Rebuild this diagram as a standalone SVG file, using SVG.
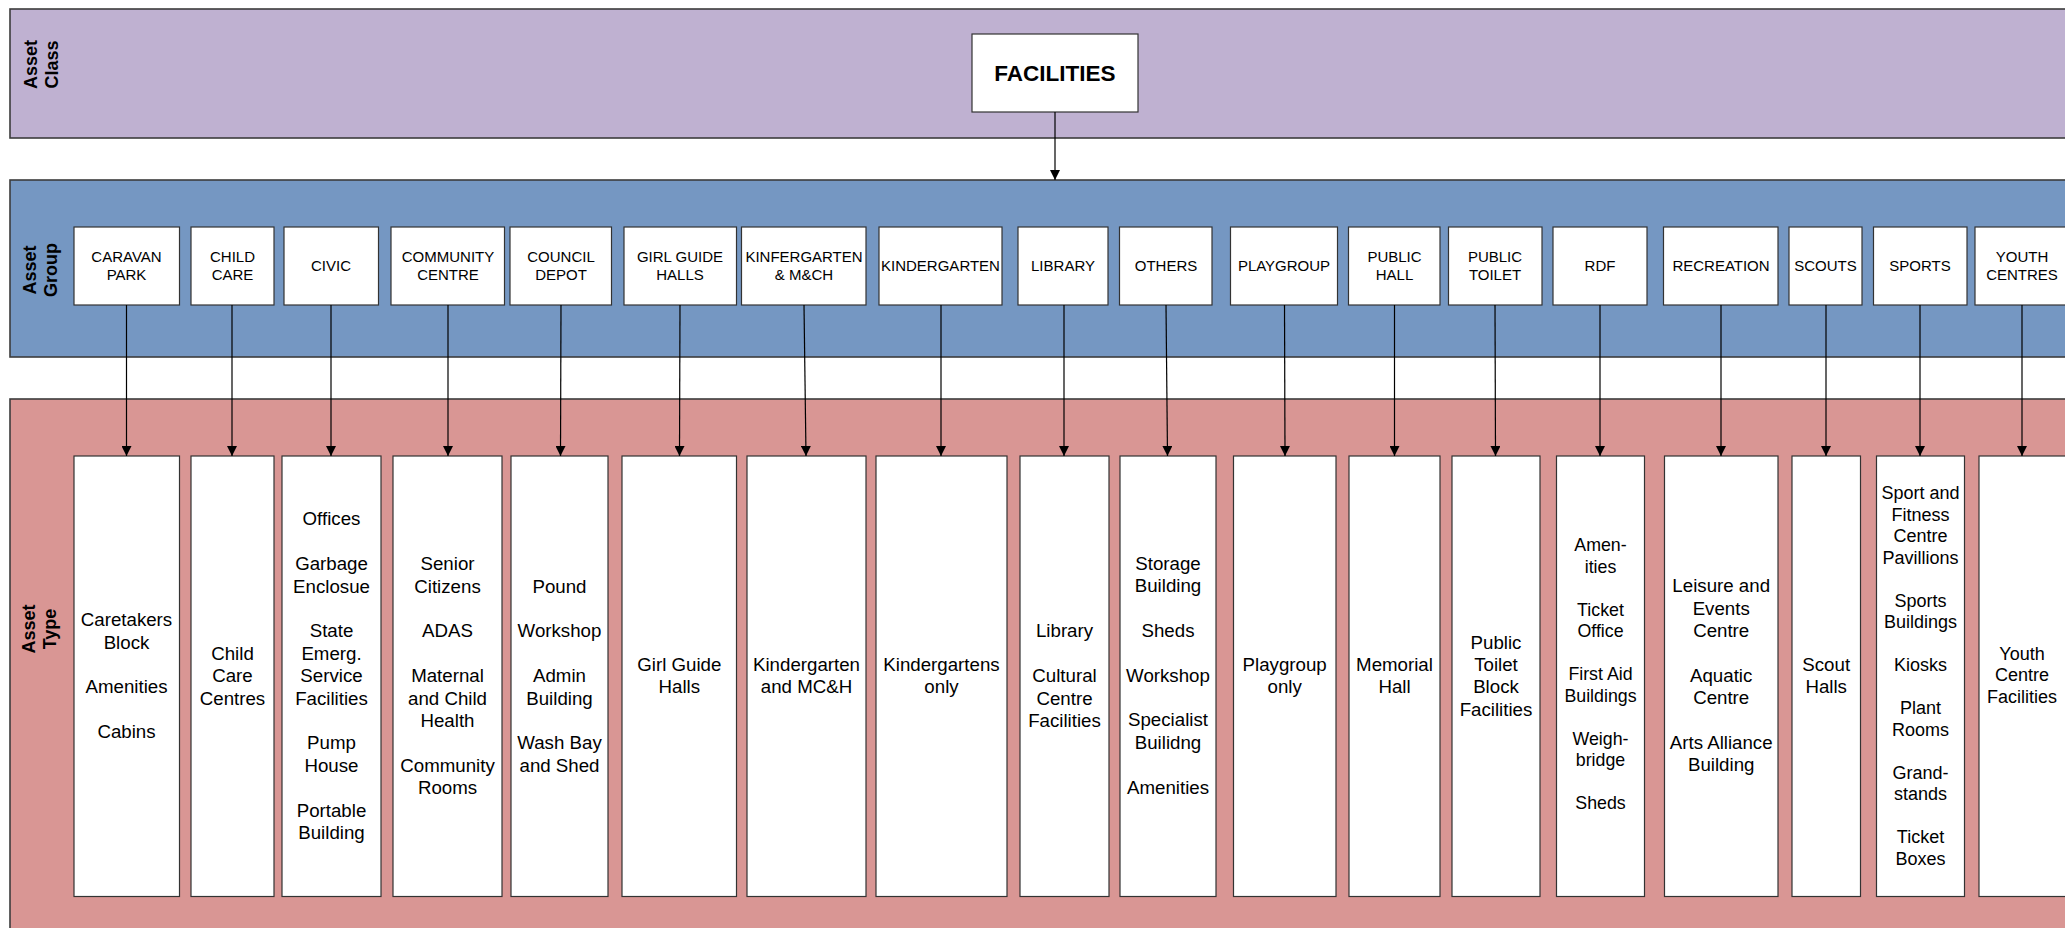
<svg xmlns="http://www.w3.org/2000/svg" width="2065" height="928" viewBox="0 0 2065 928">
<style>
.band{stroke:#3c3c3c;stroke-width:1.6}
.box{fill:#ffffff;stroke:#333333;stroke-width:1.2}
.lbl{font-family:"Liberation Sans",Arial,sans-serif;font-weight:bold;font-size:18px;fill:#000;text-anchor:middle}
.g{font-family:"Liberation Sans",Arial,sans-serif;font-size:15px;fill:#000;text-anchor:middle}
.t{font-family:"Liberation Sans",Arial,sans-serif;font-size:18.7px;fill:#000;text-anchor:middle}
.ts{font-family:"Liberation Sans",Arial,sans-serif;font-size:18px;fill:#000;text-anchor:middle}
.top{font-family:"Liberation Sans",Arial,sans-serif;font-weight:bold;font-size:22.5px;fill:#000;text-anchor:middle}
.c{stroke:#000;stroke-width:1.2;fill:none;marker-end:url(#ah)}
</style>
<defs>
<marker id="ah" markerUnits="userSpaceOnUse" markerWidth="10" markerHeight="10" refX="10" refY="5" orient="auto">
<path d="M0,0 L10,5 L0,10 z" fill="#000"/>
</marker>
</defs>
<rect width="2065" height="928" fill="#ffffff"/>
<g id="bands">
<rect class="band" x="10" y="9" width="2070" height="129" fill="#BFB1D1"/>
<rect class="band" x="10" y="180" width="2070" height="177" fill="#7597C2"/>
<rect class="band" x="10" y="399" width="2070" height="540" fill="#D99694"/>
<g transform="translate(37,64.5) rotate(-90)"><text class="lbl" x="0" y="0">Asset<tspan x="0" dy="21">Class</tspan></text></g>
<g transform="translate(36,270) rotate(-90)"><text class="lbl" x="0" y="0">Asset<tspan x="0" dy="21">Group</tspan></text></g>
<g transform="translate(35,629) rotate(-90)"><text class="lbl" x="0" y="0">Asset<tspan x="0" dy="21">Type</tspan></text></g>
</g>
<g id="facilities"><rect class="box" x="972" y="34" width="166" height="78"/><text class="top" x="1055" y="81">FACILITIES</text></g>

<g id="g-caravan"><rect class="box" x="74" y="227" width="105.5" height="78"/><text class="g" x="126.5" y="262.1">CARAVAN<tspan x="126.5" dy="17.6">PARK</tspan></text></g>
<g id="g-childcare"><rect class="box" x="191" y="227" width="83" height="78"/><text class="g" x="232.5" y="262.1">CHILD<tspan x="232.5" dy="17.6">CARE</tspan></text></g>
<g id="g-civic"><rect class="box" x="284" y="227" width="94.5" height="78"/><text class="g" x="331" y="270.9">CIVIC</text></g>
<g id="g-community"><rect class="box" x="391" y="227" width="113.5" height="78"/><text class="g" x="448" y="262.1">COMMUNITY<tspan x="448" dy="17.6">CENTRE</tspan></text></g>
<g id="g-council"><rect class="box" x="510" y="227" width="101.5" height="78"/><text class="g" x="561" y="262.1">COUNCIL<tspan x="561" dy="17.6">DEPOT</tspan></text></g>
<g id="g-girlguide"><rect class="box" x="624" y="227" width="112.5" height="78"/><text class="g" x="680" y="262.1">GIRL GUIDE<tspan x="680" dy="17.6">HALLS</tspan></text></g>
<g id="g-kinfergarten"><rect class="box" x="741.5" y="227" width="124.5" height="78"/><text class="g" x="804" y="262.1">KINFERGARTEN<tspan x="804" dy="17.6">&amp; M&amp;CH</tspan></text></g>
<g id="g-kindergarten"><rect class="box" x="879" y="227" width="123" height="78"/><text class="g" x="940.5" y="270.9">KINDERGARTEN</text></g>
<g id="g-library"><rect class="box" x="1018" y="227" width="90" height="78"/><text class="g" x="1063" y="270.9">LIBRARY</text></g>
<g id="g-others"><rect class="box" x="1119.5" y="227" width="92.5" height="78"/><text class="g" x="1166" y="270.9">OTHERS</text></g>
<g id="g-playgroup"><rect class="box" x="1230.5" y="227" width="107" height="78"/><text class="g" x="1284" y="270.9">PLAYGROUP</text></g>
<g id="g-publichall"><rect class="box" x="1348.5" y="227" width="91.5" height="78"/><text class="g" x="1394.5" y="262.1">PUBLIC<tspan x="1394.5" dy="17.6">HALL</tspan></text></g>
<g id="g-publictoilet"><rect class="box" x="1448.5" y="227" width="93.5" height="78"/><text class="g" x="1495" y="262.1">PUBLIC<tspan x="1495" dy="17.6">TOILET</tspan></text></g>
<g id="g-rdf"><rect class="box" x="1553" y="227" width="94" height="78"/><text class="g" x="1600" y="270.9">RDF</text></g>
<g id="g-recreation"><rect class="box" x="1663.5" y="227" width="114.5" height="78"/><text class="g" x="1721" y="270.9">RECREATION</text></g>
<g id="g-scouts"><rect class="box" x="1789" y="227" width="73" height="78"/><text class="g" x="1825.5" y="270.9">SCOUTS</text></g>
<g id="g-sports"><rect class="box" x="1873.5" y="227" width="93.5" height="78"/><text class="g" x="1920" y="270.9">SPORTS</text></g>
<g id="g-youth"><rect class="box" x="1975" y="227" width="94" height="78"/><text class="g" x="2022" y="262.1">YOUTH<tspan x="2022" dy="17.6">CENTRES</tspan></text></g>

<g id="t-caravan"><rect class="box" x="74" y="456" width="105.5" height="440.5"/><text class="t" x="126.5" y="626.2">Caretakers<tspan x="126.5" dy="22.4">Block</tspan><tspan x="126.5" dy="44.8">Amenities</tspan><tspan x="126.5" dy="44.8">Cabins</tspan></text></g>
<g id="t-childcare"><rect class="box" x="191" y="456" width="83" height="440.5"/><text class="t" x="232.5" y="659.8">Child<tspan x="232.5" dy="22.4">Care</tspan><tspan x="232.5" dy="22.4">Centres</tspan></text></g>
<g id="t-civic"><rect class="box" x="282" y="456" width="99" height="440.5"/><text class="t" x="331.5" y="525.4">Offices<tspan x="331.5" dy="44.8">Garbage</tspan><tspan x="331.5" dy="22.4">Enclosue</tspan><tspan x="331.5" dy="44.8">State</tspan><tspan x="331.5" dy="22.4">Emerg.</tspan><tspan x="331.5" dy="22.4">Service</tspan><tspan x="331.5" dy="22.4">Facilities</tspan><tspan x="331.5" dy="44.8">Pump</tspan><tspan x="331.5" dy="22.4">House</tspan><tspan x="331.5" dy="44.8">Portable</tspan><tspan x="331.5" dy="22.4">Building</tspan></text></g>
<g id="t-community"><rect class="box" x="393" y="456" width="109" height="440.5"/><text class="t" x="447.5" y="570.2">Senior<tspan x="447.5" dy="22.4">Citizens</tspan><tspan x="447.5" dy="44.8">ADAS</tspan><tspan x="447.5" dy="44.8">Maternal</tspan><tspan x="447.5" dy="22.4">and Child</tspan><tspan x="447.5" dy="22.4">Health</tspan><tspan x="447.5" dy="44.8">Community</tspan><tspan x="447.5" dy="22.4">Rooms</tspan></text></g>
<g id="t-council"><rect class="box" x="511" y="456" width="97" height="440.5"/><text class="t" x="559.5" y="592.6">Pound<tspan x="559.5" dy="44.8">Workshop</tspan><tspan x="559.5" dy="44.8">Admin</tspan><tspan x="559.5" dy="22.4">Building</tspan><tspan x="559.5" dy="44.8">Wash Bay</tspan><tspan x="559.5" dy="22.4">and Shed</tspan></text></g>
<g id="t-girlguide"><rect class="box" x="622" y="456" width="114.5" height="440.5"/><text class="t" x="679.3" y="671">Girl Guide<tspan x="679.3" dy="22.4">Halls</tspan></text></g>
<g id="t-kindergarten-mch"><rect class="box" x="747" y="456" width="119" height="440.5"/><text class="t" x="806.5" y="671">Kindergarten<tspan x="806.5" dy="22.4">and MC&amp;H</tspan></text></g>
<g id="t-kindergartens"><rect class="box" x="876" y="456" width="131" height="440.5"/><text class="t" x="941.5" y="671">Kindergartens<tspan x="941.5" dy="22.4">only</tspan></text></g>
<g id="t-library"><rect class="box" x="1020" y="456" width="89" height="440.5"/><text class="t" x="1064.5" y="637.4">Library<tspan x="1064.5" dy="44.8">Cultural</tspan><tspan x="1064.5" dy="22.4">Centre</tspan><tspan x="1064.5" dy="22.4">Facilities</tspan></text></g>
<g id="t-others"><rect class="box" x="1120" y="456" width="96" height="440.5"/><text class="t" x="1168" y="569.5">Storage<tspan x="1168" dy="22.4">Building</tspan><tspan x="1168" dy="44.8">Sheds</tspan><tspan x="1168" dy="44.8">Workshop</tspan><tspan x="1168" dy="44.8">Specialist</tspan><tspan x="1168" dy="22.4">Builidng</tspan><tspan x="1168" dy="44.8">Amenities</tspan></text></g>
<g id="t-playgroup"><rect class="box" x="1233.5" y="456" width="102.5" height="440.5"/><text class="t" x="1284.7" y="671">Playgroup<tspan x="1284.7" dy="22.4">only</tspan></text></g>
<g id="t-publichall"><rect class="box" x="1349" y="456" width="91" height="440.5"/><text class="t" x="1394.5" y="671">Memorial<tspan x="1394.5" dy="22.4">Hall</tspan></text></g>
<g id="t-publictoilet"><rect class="box" x="1452" y="456" width="88" height="440.5"/><text class="t" x="1496" y="648.6">Public<tspan x="1496" dy="22.4">Toilet</tspan><tspan x="1496" dy="22.4">Block</tspan><tspan x="1496" dy="22.4">Facilities</tspan></text></g>
<g id="t-rdf"><rect class="box" x="1556.5" y="456" width="88" height="440.5"/><text class="ts" style="font-size:17.8px" x="1600.5" y="551.4">Amen-<tspan x="1600.5" dy="21.5">ities</tspan><tspan x="1600.5" dy="43">Ticket</tspan><tspan x="1600.5" dy="21.5">Office</tspan><tspan x="1600.5" dy="43">First Aid</tspan><tspan x="1600.5" dy="21.5">Buildings</tspan><tspan x="1600.5" dy="43">Weigh-</tspan><tspan x="1600.5" dy="21.5">bridge</tspan><tspan x="1600.5" dy="43">Sheds</tspan></text></g>
<g id="t-recreation"><rect class="box" x="1664.5" y="456" width="113.5" height="440.5"/><text class="t" x="1721.2" y="592.2">Leisure and<tspan x="1721.2" dy="22.4">Events</tspan><tspan x="1721.2" dy="22.4">Centre</tspan><tspan x="1721.2" dy="44.8">Aquatic</tspan><tspan x="1721.2" dy="22.4">Centre</tspan><tspan x="1721.2" dy="44.8">Arts Alliance</tspan><tspan x="1721.2" dy="22.4">Building</tspan></text></g>
<g id="t-scouts"><rect class="box" x="1792" y="456" width="68.5" height="440.5"/><text class="t" x="1826.2" y="671">Scout<tspan x="1826.2" dy="22.4">Halls</tspan></text></g>
<g id="t-sports"><rect class="box" x="1876.5" y="456" width="88" height="440.5"/><text class="ts" x="1920.5" y="499.1">Sport and<tspan x="1920.5" dy="21.5">Fitness</tspan><tspan x="1920.5" dy="21.5">Centre</tspan><tspan x="1920.5" dy="21.5">Pavillions</tspan><tspan x="1920.5" dy="43">Sports</tspan><tspan x="1920.5" dy="21.5">Buildings</tspan><tspan x="1920.5" dy="43">Kiosks</tspan><tspan x="1920.5" dy="43">Plant</tspan><tspan x="1920.5" dy="21.5">Rooms</tspan><tspan x="1920.5" dy="43">Grand-</tspan><tspan x="1920.5" dy="21.5">stands</tspan><tspan x="1920.5" dy="43">Ticket</tspan><tspan x="1920.5" dy="21.5">Boxes</tspan></text></g>
<g id="t-youth"><rect class="box" x="1979" y="456" width="90" height="440.5"/><text class="ts" x="2022" y="660">Youth<tspan x="2022" dy="21.4">Centre</tspan><tspan x="2022" dy="21.4">Facilities</tspan></text></g>

<g id="connectors">
<line class="c" x1="1055" y1="112" x2="1055" y2="180"/>
<line class="c" x1="126.5" y1="305" x2="126.5" y2="456"/>
<line class="c" x1="232" y1="305" x2="232" y2="456"/>
<line class="c" x1="331" y1="305" x2="331" y2="456"/>
<line class="c" x1="448" y1="305" x2="448" y2="456"/>
<line class="c" x1="561" y1="305" x2="560.5" y2="456"/>
<line class="c" x1="680" y1="305" x2="679.5" y2="456"/>
<line class="c" x1="804" y1="305" x2="806" y2="456"/>
<line class="c" x1="941" y1="305" x2="941" y2="456"/>
<line class="c" x1="1064" y1="305" x2="1064" y2="456"/>
<line class="c" x1="1166" y1="305" x2="1167.5" y2="456"/>
<line class="c" x1="1284.5" y1="305" x2="1285" y2="456"/>
<line class="c" x1="1394.5" y1="305" x2="1394.5" y2="456"/>
<line class="c" x1="1495" y1="305" x2="1495.5" y2="456"/>
<line class="c" x1="1600" y1="305" x2="1600" y2="456"/>
<line class="c" x1="1721" y1="305" x2="1721" y2="456"/>
<line class="c" x1="1826" y1="305" x2="1826" y2="456"/>
<line class="c" x1="1920" y1="305" x2="1920" y2="456"/>
<line class="c" x1="2022" y1="305" x2="2022" y2="456"/>
</g>
</svg>
